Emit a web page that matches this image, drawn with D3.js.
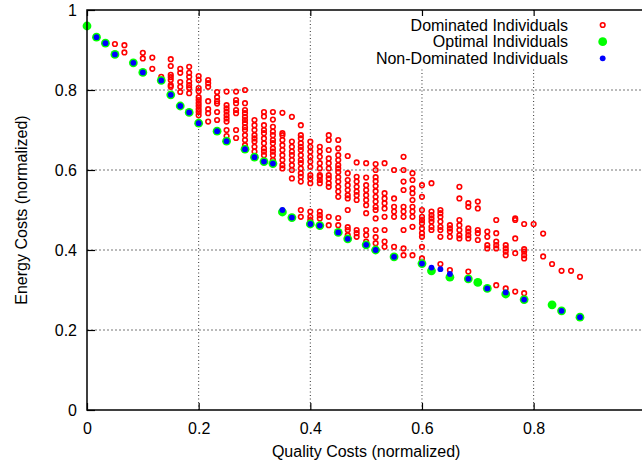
<!DOCTYPE html>
<html><head><meta charset="utf-8">
<script src="https://cdn.jsdelivr.net/npm/d3@7"></script>
<style>body{margin:0;background:#fff} svg text{font-family:"Liberation Sans",Arial,Helvetica,sans-serif;fill:#000}</style>
</head><body><svg id="c" width="642" height="461"></svg>
<script>
const xTicks = [0, 0.2, 0.4, 0.6, 0.8];
const yTicks = [0, 0.2, 0.4, 0.6, 0.8, 1];
const xTitle = "Quality Costs (normalized)";
const yTitle = "Energy Costs (normalized)";
const legendLabels = ["Dominated Individuals", "Optimal Individuals", "Non-Dominated Individuals"];

// dominated individuals: [quality, [energy values in that column]]
const dominated = [
 [0.05,[0.915]],
 [0.067,[0.912,0.894]],
 [0.1,[0.893,0.879]],
 [0.117,[0.881,0.853]],
 [0.133,[0.833]],
 [0.15,[0.877,0.86,0.838,0.832,0.825,0.812,0.808]],
 [0.167,[0.853,0.843,0.82,0.808,0.795]],
 [0.183,[0.858,0.843,0.833,0.821,0.812,0.805,0.792]],
 [0.2,[0.835,0.825,0.805,0.797,0.782,0.775,0.767,0.76,0.752,0.745,0.737]],
 [0.217,[0.825,0.817,0.808,0.772,0.752,0.742,0.721]],
 [0.233,[0.795,0.782,0.772,0.766,0.745,0.725]],
 [0.25,[0.796,0.762,0.754,0.746,0.737,0.729,0.721,0.7,0.685]],
 [0.267,[0.796,0.775,0.767,0.75,0.742,0.7,0.68]],
 [0.283,[0.8,0.767,0.75,0.742,0.733,0.725,0.717,0.707,0.7,0.687,0.675,0.662]],
 [0.3,[0.725,0.712,0.7,0.687,0.679,0.671,0.658,0.646]],
 [0.317,[0.745,0.734,0.712,0.7,0.692,0.679,0.667,0.654,0.646,0.637]],
 [0.333,[0.745,0.726,0.708,0.696,0.687,0.675,0.667,0.654,0.646,0.637,0.625]],
 [0.35,[0.743,0.692,0.687,0.675,0.662,0.65,0.637,0.625,0.612,0.604]],
 [0.367,[0.733,0.671,0.658,0.646,0.637,0.625,0.612,0.6,0.579]],
 [0.383,[0.712,0.687,0.679,0.667,0.658,0.65,0.637,0.625,0.617,0.604,0.592,0.583,0.571,0.5,0.483]],
 [0.4,[0.671,0.658,0.646,0.633,0.621,0.608,0.587,0.579,0.567,0.496,0.483,0.475]],
 [0.417,[0.658,0.646,0.633,0.617,0.604,0.587,0.583,0.575,0.567,0.496,0.487,0.479]],
 [0.433,[0.687,0.675,0.65,0.629,0.617,0.604,0.587,0.579,0.567,0.558,0.483,0.462]],
 [0.45,[0.675,0.654,0.637,0.625,0.612,0.604,0.595,0.582,0.571,0.558,0.546,0.533,0.48,0.462]],
 [0.467,[0.635,0.592,0.575,0.562,0.55,0.537,0.529,0.5,0.457,0.45,0.437]],
 [0.483,[0.619,0.583,0.571,0.558,0.546,0.537,0.525,0.45,0.442,0.433]],
 [0.5,[0.617,0.581,0.562,0.55,0.537,0.525,0.512,0.492,0.45,0.437,0.421]],
 [0.517,[0.615,0.6,0.582,0.572,0.56,0.547,0.533,0.521,0.508,0.5,0.479,0.45,0.432,0.417]],
 [0.533,[0.617,0.542,0.529,0.517,0.504,0.483,0.45,0.421,0.408]],
 [0.55,[0.6,0.529,0.508,0.496,0.483,0.408]],
 [0.567,[0.633,0.6,0.571,0.55,0.508,0.496,0.483,0.45,0.404,0.387]],
 [0.583,[0.592,0.575,0.554,0.542,0.525,0.508,0.496,0.483,0.458,0.387]],
 [0.6,[0.562,0.533,0.5,0.483,0.475,0.467,0.454,0.442,0.433,0.408,0.379]],
 [0.617,[0.567,0.496,0.487,0.479,0.471,0.458,0.45]],
 [0.633,[0.5,0.492,0.483,0.471,0.458,0.45,0.433,0.365]],
 [0.65,[0.462,0.454,0.446,0.433,0.35]],
 [0.667,[0.558,0.529,0.475,0.462,0.45,0.437,0.429]],
 [0.683,[0.517,0.508,0.454,0.446,0.437,0.429,0.346]],
 [0.7,[0.521,0.504,0.45,0.442,0.425]],
 [0.717,[0.446,0.433,0.412,0.404]],
 [0.733,[0.475,0.442,0.421,0.412,0.404,0.312]],
 [0.75,[0.412,0.404,0.396,0.387,0.304]],
 [0.767,[0.479,0.475,0.429,0.392,0.296]],
 [0.783,[0.465,0.402,0.396,0.387,0.379,0.292]],
 [0.8,[0.465]],
 [0.817,[0.441,0.384]],
 [0.833,[0.365]],
 [0.85,[0.348]],
 [0.867,[0.348]],
 [0.883,[0.333]]
];

const optimal = [
 [0,0.96],[0.017,0.932],[0.033,0.917],[0.05,0.889],[0.083,0.868],[0.1,0.844],[0.133,0.824],
 [0.15,0.788],[0.167,0.76],[0.183,0.744],[0.2,0.717],[0.233,0.697],[0.25,0.672],[0.283,0.652],
 [0.3,0.632],[0.317,0.621],[0.333,0.616],[0.35,0.495],[0.367,0.481],[0.4,0.465],[0.417,0.461],
 [0.45,0.444],[0.467,0.428],[0.5,0.413],[0.517,0.4],[0.55,0.383],[0.6,0.366],[0.617,0.348],
 [0.65,0.332],[0.683,0.328],[0.7,0.319],[0.717,0.304],[0.75,0.29],[0.783,0.276],[0.833,0.263],
 [0.85,0.248],[0.883,0.232]
];

const nonDominated = [
 [0.017,0.932],[0.033,0.917],[0.05,0.889],[0.083,0.868],[0.1,0.844],[0.133,0.824],
 [0.15,0.788],[0.167,0.76],[0.183,0.744],[0.2,0.717],[0.233,0.697],[0.25,0.672],[0.283,0.652],
 [0.3,0.632],[0.317,0.621],[0.333,0.616],[0.35,0.5],[0.367,0.481],[0.4,0.465],[0.417,0.461],
 [0.45,0.444],[0.467,0.428],[0.5,0.413],[0.517,0.4],[0.55,0.383],[0.6,0.366],[0.617,0.356],
 [0.633,0.352],[0.65,0.34],[0.683,0.328],[0.717,0.304],[0.75,0.294],[0.783,0.276],
 [0.85,0.248],[0.883,0.232]
];

const svg = d3.select("#c");
const x = d3.scaleLinear().domain([0, 1]).range([87, 645.3]);
const y = d3.scaleLinear().domain([0, 1]).range([410, 10]);

// grid
const g = svg.append("g");
g.selectAll(".vg").data(xTicks.filter(t => t > 0)).enter().append("line")
  .attr("x1", d => x(d)).attr("x2", d => x(d)).attr("y1", y(0)).attr("y2", y(1))
  .attr("stroke", "#333").attr("stroke-width", 1).attr("stroke-dasharray", "1,2.5");
g.selectAll(".hg").data(yTicks.filter(t => t > 0 && t < 1)).enter().append("line")
  .attr("x1", x(0)).attr("x2", x(1)).attr("y1", d => y(d)).attr("y2", d => y(d))
  .attr("stroke", "#777").attr("stroke-width", 1).attr("stroke-dasharray", "2,2");

// points
const domPts = dominated.flatMap(([q, es]) => es.map(e => [q, e]));
svg.append("g").selectAll("circle").data(domPts).enter().append("circle")
  .attr("cx", d => x(d[0])).attr("cy", d => y(d[1])).attr("r", 2.3)
  .attr("fill", "none").attr("stroke", "#f00").attr("stroke-width", 1.6);
svg.append("g").selectAll("circle").data(optimal).enter().append("circle")
  .attr("cx", d => x(d[0])).attr("cy", d => y(d[1])).attr("r", 4.4)
  .attr("fill", "#00ff00");
svg.append("g").selectAll("circle").data(nonDominated).enter().append("circle")
  .attr("cx", d => x(d[0])).attr("cy", d => y(d[1])).attr("r", 2.9)
  .attr("fill", "#0000ff");

// legend background (opaque key)
svg.append("rect").attr("x", 368).attr("y", 11).attr("width", 280).attr("height", 56).attr("fill", "#fff");

// axes
const fmt = d => d3.format("~g")(d);
const ax = svg.append("g").attr("transform", `translate(0,${y(0)})`)
  .call(d3.axisBottom(x).tickValues(xTicks).tickFormat(fmt).tickSizeInner(-7).tickSizeOuter(0).tickPadding(13));
const ay = svg.append("g").attr("transform", `translate(${x(0)},0)`)
  .call(d3.axisLeft(y).tickValues(yTicks).tickFormat(fmt).tickSizeInner(-8).tickSizeOuter(0).tickPadding(10));
const at = svg.append("g").attr("transform", `translate(0,${y(1)})`)
  .call(d3.axisTop(x).tickValues(xTicks).tickFormat("").tickSizeInner(-6).tickSizeOuter(0));
[ax, ay, at].forEach(a => {
  a.select(".domain").remove();
  a.selectAll(".tick line").attr("stroke", "#000").attr("stroke-width", 1.2);
  a.selectAll("text").style("font-size", "16px").attr("fill", "#000");
});
svg.append("rect").attr("x", x(0)).attr("y", y(1)).attr("width", x(1) - x(0)).attr("height", y(0) - y(1))
  .attr("fill", "none").attr("stroke", "#000").attr("stroke-width", 1.5);

// titles
svg.append("text").attr("x", (x(0) + x(1)) / 2).attr("y", 457).attr("text-anchor", "middle")
  .style("font-size", "16px").text(xTitle);
svg.append("text").attr("transform", `translate(27,${(y(0) + y(1)) / 2}) rotate(-90)`).attr("text-anchor", "middle")
  .style("font-size", "16px").text(yTitle);

// legend
const ly = [25, 41.7, 58.3];
legendLabels.forEach((lab, i) => {
  svg.append("text").attr("x", 568).attr("y", ly[i]).attr("dy", "0.36em").attr("text-anchor", "end")
    .style("font-size", "16px").text(lab);
});
svg.append("circle").attr("cx", 602.7).attr("cy", ly[0]).attr("r", 2.3).attr("fill", "none").attr("stroke", "#f00").attr("stroke-width", 1.6);
svg.append("circle").attr("cx", 602.7).attr("cy", ly[1]).attr("r", 4.4).attr("fill", "#00ff00");
svg.append("circle").attr("cx", 602.7).attr("cy", ly[2]).attr("r", 2.9).attr("fill", "#0000ff");
</script></body></html>
